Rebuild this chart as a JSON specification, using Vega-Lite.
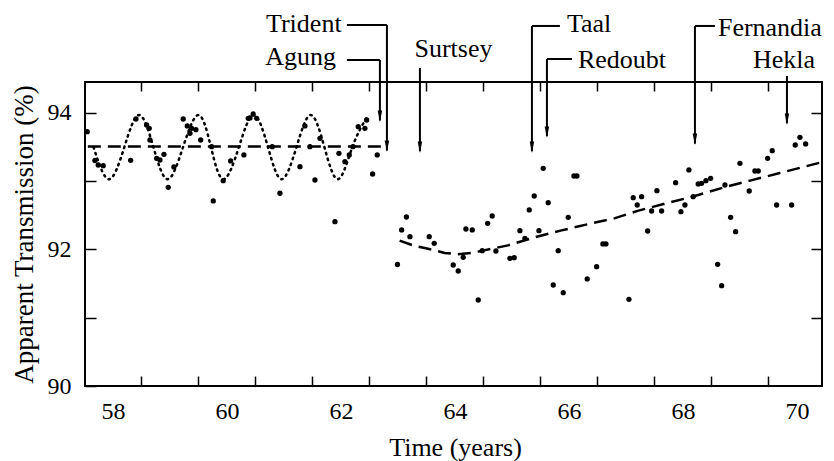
{
  "$schema": "https://vega.github.io/schema/vega-lite/v6.json",
  "width": 737,
  "height": 304,
  "autosize": {"type": "none"},
  "padding": {"left": 85, "top": 82, "right": 12, "bottom": 75},
  "background": "white",
  "config": {
    "view": {"stroke": "black", "strokeWidth": 2},
    "font": "Liberation Serif"
  },
  "datasets": {
    "obs": [
      {"year": 57.549, "t": 93.726}, {"year": 57.684, "t": 93.304}, {"year": 57.742, "t": 93.238}, {"year": 57.83, "t": 93.228},
      {"year": 58.311, "t": 93.307}, {"year": 58.404, "t": 93.912}, {"year": 58.591, "t": 93.824}, {"year": 58.637, "t": 93.776},
      {"year": 58.649, "t": 93.604}, {"year": 58.767, "t": 93.336}, {"year": 58.825, "t": 93.311}, {"year": 58.895, "t": 93.395},
      {"year": 58.97, "t": 92.911}, {"year": 59.07, "t": 93.209}, {"year": 59.233, "t": 93.912}, {"year": 59.304, "t": 93.81},
      {"year": 59.351, "t": 93.703}, {"year": 59.381, "t": 93.776}, {"year": 59.456, "t": 93.755}, {"year": 59.539, "t": 93.604},
      {"year": 59.732, "t": 93.506}, {"year": 59.76, "t": 92.711}, {"year": 59.935, "t": 93.008}, {"year": 60.065, "t": 93.297},
      {"year": 60.298, "t": 93.385}, {"year": 60.374, "t": 93.922}, {"year": 60.404, "t": 93.927}, {"year": 60.461, "t": 93.985},
      {"year": 60.521, "t": 93.922}, {"year": 60.795, "t": 93.506}, {"year": 60.93, "t": 92.824}, {"year": 61.281, "t": 93.213},
      {"year": 61.368, "t": 93.81}, {"year": 61.456, "t": 93.506}, {"year": 61.544, "t": 93.018}, {"year": 61.632, "t": 93.629},
      {"year": 61.895, "t": 92.407}, {"year": 61.965, "t": 93.409}, {"year": 62.07, "t": 93.286}, {"year": 62.146, "t": 93.385},
      {"year": 62.211, "t": 93.506}, {"year": 62.304, "t": 93.799}, {"year": 62.421, "t": 93.776}, {"year": 62.451, "t": 93.897},
      {"year": 62.556, "t": 93.106}, {"year": 62.637, "t": 93.385},
      {"year": 62.991, "t": 91.78}, {"year": 63.065, "t": 92.286}, {"year": 63.149, "t": 92.476}, {"year": 63.211, "t": 92.188},
      {"year": 63.549, "t": 92.188}, {"year": 63.637, "t": 92.091}, {"year": 63.97, "t": 91.773}, {"year": 64.058, "t": 91.685},
      {"year": 64.146, "t": 91.886}, {"year": 64.193, "t": 92.3}, {"year": 64.304, "t": 92.286}, {"year": 64.409, "t": 91.26},
      {"year": 64.479, "t": 91.982}, {"year": 64.574, "t": 92.384}, {"year": 64.654, "t": 92.491}, {"year": 64.719, "t": 91.978},
      {"year": 64.965, "t": 91.871}, {"year": 65.04, "t": 91.88}, {"year": 65.14, "t": 92.275}, {"year": 65.228, "t": 92.164},
      {"year": 65.304, "t": 92.579}, {"year": 65.391, "t": 92.784}, {"year": 65.474, "t": 92.275}, {"year": 65.549, "t": 93.19},
      {"year": 65.637, "t": 92.686}, {"year": 65.725, "t": 91.48}, {"year": 65.812, "t": 91.982}, {"year": 65.9, "t": 91.367},
      {"year": 65.988, "t": 92.472}, {"year": 66.088, "t": 93.077}, {"year": 66.14, "t": 93.077}, {"year": 66.321, "t": 91.568},
      {"year": 66.486, "t": 91.748}, {"year": 66.596, "t": 92.081}, {"year": 66.649, "t": 92.081}, {"year": 67.053, "t": 91.27},
      {"year": 67.128, "t": 92.759}, {"year": 67.198, "t": 92.652}, {"year": 67.275, "t": 92.774}, {"year": 67.381, "t": 92.271},
      {"year": 67.451, "t": 92.564}, {"year": 67.544, "t": 92.862}, {"year": 67.626, "t": 92.564}, {"year": 67.872, "t": 92.979},
      {"year": 67.965, "t": 92.554}, {"year": 68.035, "t": 92.652}, {"year": 68.105, "t": 93.165}, {"year": 68.181, "t": 92.774},
      {"year": 68.268, "t": 92.96}, {"year": 68.328, "t": 92.97}, {"year": 68.404, "t": 93.008}, {"year": 68.486, "t": 93.043},
      {"year": 68.609, "t": 91.783}, {"year": 68.679, "t": 91.47}, {"year": 68.737, "t": 92.945}, {"year": 68.837, "t": 92.472},
      {"year": 68.925, "t": 92.261}, {"year": 69.0, "t": 93.263}, {"year": 69.163, "t": 92.857}, {"year": 69.263, "t": 93.15},
      {"year": 69.321, "t": 93.15}, {"year": 69.486, "t": 93.336}, {"year": 69.567, "t": 93.448}, {"year": 69.644, "t": 92.652},
      {"year": 69.907, "t": 92.652}, {"year": 69.97, "t": 93.531}, {"year": 70.053, "t": 93.644}, {"year": 70.153, "t": 93.546}
    ],
    "fits": [
      {"seg": "base", "year": 57.56, "t": 93.51}, {"seg": "base", "year": 62.74, "t": 93.51},
      {"seg": "trend", "year": 63.03, "t": 92.13}, {"seg": "trend", "year": 63.3, "t": 92.05}, {"seg": "trend", "year": 63.53, "t": 92.01},
      {"seg": "trend", "year": 63.82, "t": 91.95}, {"seg": "trend", "year": 64.05, "t": 91.93}, {"seg": "trend", "year": 64.29, "t": 91.95},
      {"seg": "trend", "year": 64.47, "t": 91.98}, {"seg": "trend", "year": 64.7, "t": 92.02}, {"seg": "trend", "year": 64.93, "t": 92.06},
      {"seg": "trend", "year": 65.17, "t": 92.12}, {"seg": "trend", "year": 65.4, "t": 92.18}, {"seg": "trend", "year": 65.64, "t": 92.23},
      {"seg": "trend", "year": 65.87, "t": 92.28}, {"seg": "trend", "year": 66.33, "t": 92.37}, {"seg": "trend", "year": 66.81, "t": 92.46},
      {"seg": "trend", "year": 67.22, "t": 92.57}, {"seg": "trend", "year": 67.68, "t": 92.67}, {"seg": "trend", "year": 68.15, "t": 92.77},
      {"seg": "trend", "year": 68.76, "t": 92.92}, {"seg": "trend", "year": 69.23, "t": 93.02}, {"seg": "trend", "year": 69.7, "t": 93.12},
      {"seg": "trend", "year": 70.44, "t": 93.28}
    ],
    "seasonal": [
      {"year": 57.66, "t": 93.5}, {"year": 57.93, "t": 93.03}, {"year": 58.2, "t": 93.5}, {"year": 58.46, "t": 93.97},
      {"year": 58.71, "t": 93.5}, {"year": 58.96, "t": 93.03}, {"year": 59.23, "t": 93.5}, {"year": 59.5, "t": 93.97},
      {"year": 59.72, "t": 93.5}, {"year": 59.94, "t": 93.03}, {"year": 60.21, "t": 93.5}, {"year": 60.47, "t": 93.97},
      {"year": 60.72, "t": 93.5}, {"year": 60.96, "t": 93.03}, {"year": 61.22, "t": 93.5}, {"year": 61.47, "t": 93.97},
      {"year": 61.71, "t": 93.5}, {"year": 61.95, "t": 93.03}, {"year": 62.2, "t": 93.5}, {"year": 62.45, "t": 93.93}
    ],
    "leaders": [
      {"volcano": "Trident", "x1": 62.105, "x2": 62.807, "y1": 95.29, "y2": 95.29},
      {"volcano": "Trident", "x1": 62.807, "x2": 62.807, "y1": 95.29, "y2": 93.45},
      {"volcano": "Agung", "x1": 62.105, "x2": 62.684, "y1": 94.777, "y2": 94.777},
      {"volcano": "Agung", "x1": 62.684, "x2": 62.684, "y1": 94.777, "y2": 93.89},
      {"volcano": "Surtsey", "x1": 63.386, "x2": 63.386, "y1": 94.659, "y2": 93.44},
      {"volcano": "Taal", "x1": 65.351, "x2": 65.842, "y1": 95.275, "y2": 95.275},
      {"volcano": "Taal", "x1": 65.351, "x2": 65.351, "y1": 95.275, "y2": 93.44},
      {"volcano": "Redoubt", "x1": 65.614, "x2": 66.053, "y1": 94.791, "y2": 94.791},
      {"volcano": "Redoubt", "x1": 65.614, "x2": 65.614, "y1": 94.791, "y2": 93.66},
      {"volcano": "Fernandia", "x1": 68.211, "x2": 68.561, "y1": 95.275, "y2": 95.275},
      {"volcano": "Fernandia", "x1": 68.211, "x2": 68.211, "y1": 95.275, "y2": 93.55},
      {"volcano": "Hekla", "x1": 69.825, "x2": 69.825, "y1": 94.542, "y2": 93.85}
    ],
    "tips": [
      {"volcano": "Trident", "year": 62.807, "t": 93.43},
      {"volcano": "Agung", "year": 62.684, "t": 93.868},
      {"volcano": "Surtsey", "year": 63.386, "t": 93.414},
      {"volcano": "Taal", "year": 65.351, "t": 93.414},
      {"volcano": "Redoubt", "year": 65.614, "t": 93.634},
      {"volcano": "Fernandia", "year": 68.211, "t": 93.531},
      {"volcano": "Hekla", "year": 69.825, "t": 93.824}
    ],
    "names": [
      {"volcano": "Trident", "year": 62.012, "t": 95.187},
      {"volcano": "Agung", "year": 61.912, "t": 94.703},
      {"volcano": "Surtsey", "year": 63.974, "t": 94.82},
      {"volcano": "Hekla", "year": 69.772, "t": 94.659},
      {"volcano": "Taal", "year": 65.965, "t": 95.187},
      {"volcano": "Redoubt", "year": 66.158, "t": 94.659},
      {"volcano": "Fernandia", "year": 68.614, "t": 95.128}
    ]
  },
  "layer": [
    {
      "data": {"name": "obs"},
      "mark": {"type": "circle", "size": 28, "color": "black", "opacity": 1},
      "encoding": {
        "x": {
          "field": "year", "type": "quantitative",
          "scale": {"domain": [57.51, 70.44], "nice": false, "zero": false},
          "axis": {
            "orient": "bottom",
            "values": [58, 58.5, 59.5, 60, 60.5, 61.5, 62, 62.5, 63.5, 64, 64.5, 65.5, 66, 66.5, 67.5, 68, 68.5, 69.5, 70],
            "labelExpr": "datum.value % 2 === 0 ? format(datum.value, 'd') : ''",
            "labelOverlap": false, "labelFlush": false,
            "labelFont": "Liberation Serif", "labelFontSize": 24, "labelColor": "black",
            "labelPadding": 23,
            "ticks": true, "tickSize": -10, "tickWidth": 1.5, "tickColor": "black",
            "tickOpacity": {"condition": {"test": "datum.value % 1 === 0", "value": 0}, "value": 1},
            "domain": false, "grid": false,
            "title": "Time (years)", "titleFont": "Liberation Serif", "titleFontSize": 26, "titleFontWeight": "normal",
            "titleColor": "black", "titleX": 370, "titleY": 69, "titleBaseline": "alphabetic", "titleAlign": "center", "titleAngle": 0
          }
        },
        "y": {
          "field": "t", "type": "quantitative",
          "scale": {"domain": [90, 94.454], "nice": false, "zero": false},
          "axis": {
            "orient": "left",
            "values": [90, 91, 92, 93, 94],
            "labelExpr": "datum.value % 2 === 0 ? format(datum.value, 'd') : ''",
            "labelOverlap": false, "labelFlush": false,
            "labelFont": "Liberation Serif", "labelFontSize": 24, "labelColor": "black",
            "labelPadding": 25, "labelBaseline": "middle",
            "ticks": true, "tickSize": -11, "tickWidth": 1.5, "tickColor": "black",
            "domain": false, "grid": false,
            "title": "Apparent Transmission (%)", "titleFont": "Liberation Serif", "titleFontSize": 27, "titleFontWeight": "normal",
            "titleColor": "black", "titleAngle": -90, "titleX": -53, "titleY": 152, "titleBaseline": "alphabetic", "titleAlign": "center"
          }
        }
      }
    },
    {
      "data": {"name": "fits"},
      "mark": {"type": "line", "color": "black", "strokeWidth": 2.5, "strokeDash": [13, 7]},
      "encoding": {
        "x": {
          "field": "year", "type": "quantitative",
          "scale": {"domain": [57.51, 70.44], "nice": false, "zero": false},
          "axis": {
            "orient": "top",
            "values": [58.5, 59.5, 60.5, 61.5, 62.5, 63.5, 64.5, 65.5, 66.5, 67.5, 68.5, 69.5],
            "labels": false, "ticks": true, "tickSize": -9, "tickWidth": 1.5, "tickColor": "black",
            "domain": false, "grid": false, "title": null
          }
        },
        "y": {
          "field": "t", "type": "quantitative",
          "scale": {"domain": [90, 94.454], "nice": false, "zero": false},
          "axis": {
            "orient": "right",
            "values": [91, 92, 93, 94],
            "labels": false, "ticks": true, "tickSize": -11, "tickWidth": 1.5, "tickColor": "black",
            "domain": false, "grid": false, "title": null
          }
        },
        "detail": {"field": "seg"}
      }
    },
    {
      "data": {"name": "seasonal"},
      "mark": {"type": "line", "color": "black", "strokeWidth": 2.5, "strokeDash": [1.5, 4.5], "strokeCap": "round", "interpolate": "natural"},
      "encoding": {
        "x": {"field": "year", "type": "quantitative", "scale": {"domain": [57.51, 70.44], "nice": false, "zero": false}, "axis": null},
        "y": {"field": "t", "type": "quantitative", "scale": {"domain": [90, 94.454], "nice": false, "zero": false}, "axis": null}
      }
    },
    {
      "data": {"name": "leaders"},
      "mark": {"type": "rule", "color": "black", "strokeWidth": 2},
      "encoding": {
        "x": {"field": "x1", "type": "quantitative", "scale": {"domain": [57.51, 70.44], "nice": false, "zero": false}, "axis": null},
        "x2": {"field": "x2"},
        "y": {"field": "y1", "type": "quantitative", "scale": {"domain": [90, 94.454], "nice": false, "zero": false}, "axis": null},
        "y2": {"field": "y2"}
      }
    },
    {
      "data": {"name": "tips"},
      "mark": {"type": "point", "shape": "M-0.45,-2.3L0.45,-2.3L0,0Z", "size": 100, "filled": true, "color": "black", "opacity": 1},
      "encoding": {
        "x": {"field": "year", "type": "quantitative", "scale": {"domain": [57.51, 70.44], "nice": false, "zero": false}, "axis": null},
        "y": {"field": "t", "type": "quantitative", "scale": {"domain": [90, 94.454], "nice": false, "zero": false}, "axis": null}
      }
    },
    {
      "data": {"name": "names"},
      "transform": [{"filter": {"field": "volcano", "oneOf": ["Trident", "Agung"]}}],
      "mark": {"type": "text", "align": "right", "baseline": "alphabetic", "font": "Liberation Serif", "fontSize": 26, "color": "black"},
      "encoding": {
        "x": {"field": "year", "type": "quantitative", "scale": {"domain": [57.51, 70.44], "nice": false, "zero": false}, "axis": null},
        "y": {"field": "t", "type": "quantitative", "scale": {"domain": [90, 94.454], "nice": false, "zero": false}, "axis": null},
        "text": {"field": "volcano"}
      }
    },
    {
      "data": {"name": "names"},
      "transform": [{"filter": {"field": "volcano", "oneOf": ["Surtsey", "Hekla"]}}],
      "mark": {"type": "text", "align": "center", "baseline": "alphabetic", "font": "Liberation Serif", "fontSize": 26, "color": "black"},
      "encoding": {
        "x": {"field": "year", "type": "quantitative", "scale": {"domain": [57.51, 70.44], "nice": false, "zero": false}, "axis": null},
        "y": {"field": "t", "type": "quantitative", "scale": {"domain": [90, 94.454], "nice": false, "zero": false}, "axis": null},
        "text": {"field": "volcano"}
      }
    },
    {
      "data": {"name": "names"},
      "transform": [{"filter": {"field": "volcano", "oneOf": ["Taal", "Redoubt", "Fernandia"]}}],
      "mark": {"type": "text", "align": "left", "baseline": "alphabetic", "font": "Liberation Serif", "fontSize": 26, "color": "black"},
      "encoding": {
        "x": {"field": "year", "type": "quantitative", "scale": {"domain": [57.51, 70.44], "nice": false, "zero": false}, "axis": null},
        "y": {"field": "t", "type": "quantitative", "scale": {"domain": [90, 94.454], "nice": false, "zero": false}, "axis": null},
        "text": {"field": "volcano"}
      }
    }
  ],
  "resolve": {"axis": {"x": "independent", "y": "independent"}}
}
